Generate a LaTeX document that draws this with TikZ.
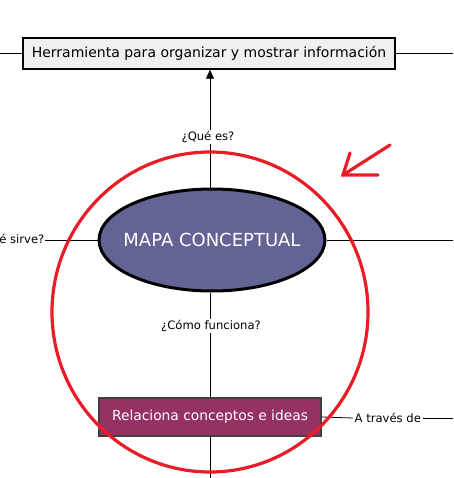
\documentclass[tikz,border=0pt]{standalone}
\usepackage{fontspec}
\setmainfont{DejaVu Sans}
\usetikzlibrary{arrows.meta,shapes.geometric}
\definecolor{mapfill}{HTML}{636394}
\definecolor{relfill}{HTML}{953163}
\definecolor{topfill}{HTML}{F0F0F0}
\definecolor{redmark}{HTML}{EA1C26}
\begin{document}
\begin{tikzpicture}[x=1pt,y=-1pt,
  lbl/.style={fill=white,inner sep=1pt,font=\fontsize{11.6}{13}\selectfont},
  conn/.style={line width=0.8pt},
  redline/.style={redmark,line width=3.2pt,line cap=round}]
\useasboundingbox (0,0) rectangle (453,478);
\clip (0,0) rectangle (453,478);
% nodes
\node[draw,line width=1.4pt,fill=topfill,minimum width=372pt,minimum height=31pt,inner sep=0pt,font=\fontsize{14}{16}\selectfont] (top) at (209,53.5) {Herramienta para organizar y mostrar información};
\node[ellipse,draw,line width=3pt,fill=mapfill,minimum width=226pt,minimum height=102pt,inner sep=0pt,
  label={[text=white,font=\fontsize{18}{21}\selectfont]center:MAPA CONCEPTUAL}] (mapa) at (212,240) {};
\node[draw=black!75,line width=1.4pt,fill=relfill,minimum width=222pt,minimum height=38pt,inner sep=0pt,text=white,font=\fontsize{13.8}{16}\selectfont] (rel) at (210,417) {Relaciona conceptos e ideas};
% labels
\node[lbl] (que) at (208,137) {¿Qué es?};
\node[lbl,anchor=east,inner sep=0.5pt] (para) at (45,240) {¿Para qué sirve?};
\node[lbl] (como) at (211,326) {¿Cómo funciona?};
\node[lbl,anchor=west,inner sep=1.5pt] (traves) at (353,418) {A través de};
\coordinate (lt) at (0,53.5);
\coordinate (rt) at (453,53.5);
\coordinate (rm) at (453,240);
\coordinate (rb) at (453,418);
\coordinate (bb) at (210,478);
% connectors
\draw[conn] (lt) -- (top.west);
\draw[conn] (top.east) -- (rt);
\draw[conn] (mapa.north -| 210,0) -- (que.south -| 210,0);
\draw[conn,-{Triangle[length=9pt,width=8pt]}] (que.north -| 210,0) -- (top.south -| 210,0);
\draw[conn] (para.east) -- (mapa.west);
\draw[conn] (mapa.east) -- (rm);
\draw[conn] (mapa.south -| 210,0) -- (como.north -| 210,0);
\draw[conn] (como.south -| 210,0) -- (rel.north -| 210,0);
\draw[conn] (rel.south -| 210,0) -- (bb);
\draw[conn] (rel.east) -- (traves.west);
\draw[conn] (traves.east) -- (rb);
% red annotation
\draw[redline] (210,312) ellipse [x radius=158, y radius=160];
\draw[redline] (390,145) -- (343,175);
\draw[redline] (350,153) -- (343,175) -- (378,175);
\end{tikzpicture}
\end{document}
